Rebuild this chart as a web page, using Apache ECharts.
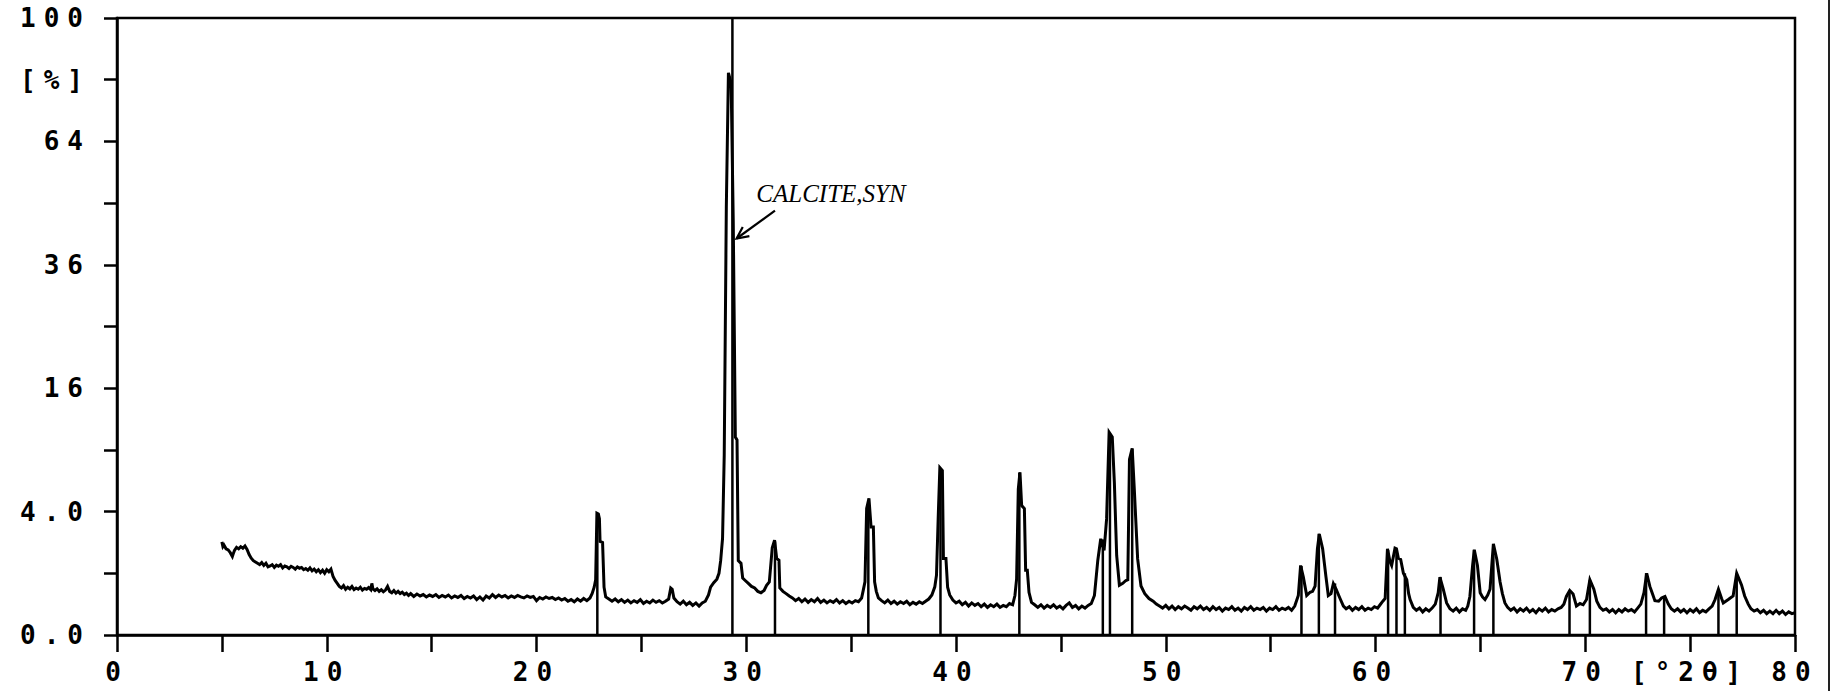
<!DOCTYPE html>
<html><head><meta charset="utf-8">
<script src="https://cdn.jsdelivr.net/npm/echarts@6/dist/echarts.min.js"></script>
<style>
html,body{margin:0;padding:0;background:#fff;}
#chart{width:1838px;height:691px;}
#chart text[style*="Mono"]{letter-spacing:8px;}
</style></head><body><div id="chart"></div>
<script>
// ---- data (2θ in degrees, intensity in %) ----
const trace = [
[5.00,2.28],[5.05,2.05],[5.10,2.12],[5.20,1.95],[5.30,1.90],[5.40,1.78],[5.50,1.62],[5.55,1.75],[5.60,1.88],[5.70,2.02],
[5.80,1.95],[5.90,2.05],[6.00,1.98],[6.10,2.08],[6.20,1.92],[6.30,1.70],[6.40,1.55],[6.50,1.45],[6.60,1.40],[6.70,1.35],
[6.80,1.30],[6.90,1.38],[7.00,1.27],[7.10,1.35],[7.20,1.22],[7.30,1.25],[7.40,1.30],[7.50,1.20],[7.60,1.28],[7.70,1.24],
[7.80,1.30],[7.90,1.18],[8.00,1.25],[8.10,1.22],[8.20,1.16],[8.30,1.24],[8.40,1.20],[8.50,1.14],[8.60,1.22],[8.70,1.17],
[8.80,1.20],[8.90,1.12],[9.00,1.16],[9.10,1.10],[9.20,1.18],[9.30,1.08],[9.40,1.14],[9.50,1.05],[9.60,1.12],[9.70,1.02],
[9.80,1.10],[9.90,1.00],[10.00,1.12],[10.10,1.05],[10.20,1.14],[10.30,0.90],[10.40,0.78],[10.50,0.70],[10.60,0.62],[10.70,0.58],
[10.80,0.64],[10.90,0.55],[11.00,0.60],[11.10,0.56],[11.20,0.62],[11.30,0.54],[11.40,0.58],[11.50,0.55],[11.60,0.60],[11.70,0.53],
[11.80,0.57],[11.90,0.55],[12.00,0.59],[12.10,0.54],[12.15,0.70],[12.20,0.56],[12.30,0.52],[12.40,0.56],[12.50,0.50],[12.60,0.54],
[12.70,0.49],[12.80,0.53],[12.90,0.62],[13.00,0.50],[13.10,0.47],[13.20,0.52],[13.30,0.46],[13.40,0.50],[13.50,0.45],[13.60,0.48],
[13.70,0.43],[13.80,0.46],[13.90,0.41],[14.00,0.45],[14.15,0.39],[14.30,0.44],[14.45,0.40],[14.60,0.43],[14.75,0.38],[14.90,0.42],
[15.05,0.39],[15.20,0.43],[15.35,0.37],[15.50,0.41],[15.65,0.38],[15.80,0.42],[15.95,0.36],[16.10,0.40],[16.25,0.37],[16.40,0.41],
[16.55,0.35],[16.70,0.39],[16.85,0.36],[17.00,0.40],[17.15,0.33],[17.30,0.38],[17.45,0.32],[17.60,0.40],[17.75,0.36],[17.90,0.43],
[18.05,0.37],[18.20,0.42],[18.35,0.38],[18.50,0.41],[18.65,0.36],[18.80,0.40],[18.95,0.37],[19.10,0.41],[19.25,0.38],[19.40,0.36],
[19.55,0.40],[19.70,0.37],[19.85,0.39],[20.00,0.31],[20.15,0.37],[20.30,0.34],[20.45,0.38],[20.60,0.35],[20.75,0.37],[20.90,0.33],
[21.05,0.36],[21.20,0.32],[21.35,0.35],[21.50,0.30],[21.65,0.33],[21.80,0.29],[21.95,0.34],[22.10,0.30],[22.25,0.35],[22.40,0.31],
[22.55,0.36],[22.65,0.45],[22.75,0.60],[22.82,0.80],[22.88,3.90],[22.95,3.85],[23.00,3.55],[23.03,2.30],[23.15,2.25],[23.22,0.60],
[23.30,0.38],[23.45,0.34],[23.60,0.30],[23.75,0.34],[23.90,0.29],[24.05,0.33],[24.20,0.28],[24.35,0.32],[24.50,0.27],[24.65,0.31],
[24.80,0.28],[24.95,0.33],[25.10,0.26],[25.25,0.30],[25.40,0.27],[25.55,0.32],[25.70,0.28],[25.85,0.31],[26.00,0.27],[26.15,0.30],
[26.30,0.34],[26.40,0.58],[26.47,0.55],[26.55,0.36],[26.70,0.29],[26.85,0.25],[27.00,0.30],[27.15,0.24],[27.30,0.28],[27.45,0.23],
[27.60,0.27],[27.75,0.22],[27.90,0.27],[28.05,0.30],[28.20,0.42],[28.30,0.60],[28.45,0.72],[28.60,0.82],[28.70,1.00],[28.78,1.45],
[28.87,2.45],[28.95,8.50],[29.05,48.0],[29.15,83.0],[29.28,80.0],[29.38,45.0],[29.48,10.3],[29.56,10.0],[29.62,1.45],[29.75,1.35],
[29.83,0.85],[29.95,0.78],[30.10,0.70],[30.25,0.62],[30.40,0.58],[30.55,0.50],[30.70,0.47],[30.85,0.52],[30.97,0.65],[31.10,0.74],
[31.24,2.00],[31.35,2.36],[31.45,1.54],[31.56,1.47],[31.60,0.58],[31.75,0.50],[31.90,0.45],[32.05,0.40],[32.20,0.36],[32.35,0.31],
[32.50,0.35],[32.65,0.29],[32.80,0.34],[32.95,0.28],[33.10,0.33],[33.25,0.29],[33.40,0.35],[33.55,0.28],[33.70,0.32],[33.85,0.27],
[34.00,0.31],[34.15,0.28],[34.30,0.33],[34.45,0.27],[34.60,0.31],[34.75,0.26],[34.90,0.30],[35.05,0.27],[35.20,0.31],[35.35,0.29],
[35.50,0.36],[35.58,0.53],[35.66,0.74],[35.74,4.20],[35.85,4.90],[35.95,3.07],[36.06,3.07],[36.12,0.74],[36.20,0.50],[36.30,0.36],
[36.45,0.31],[36.60,0.27],[36.75,0.32],[36.90,0.26],[37.05,0.30],[37.20,0.25],[37.35,0.29],[37.50,0.26],[37.65,0.30],[37.80,0.24],
[37.95,0.28],[38.10,0.25],[38.25,0.29],[38.40,0.26],[38.55,0.30],[38.70,0.34],[38.85,0.42],[38.99,0.61],[39.07,0.94],[39.15,3.57],
[39.23,7.36],[39.35,7.10],[39.40,1.54],[39.52,1.54],[39.60,0.60],[39.70,0.42],[39.85,0.32],[40.00,0.27],[40.15,0.30],[40.30,0.24],
[40.45,0.28],[40.60,0.22],[40.75,0.27],[40.90,0.23],[41.05,0.26],[41.20,0.21],[41.35,0.25],[41.50,0.20],[41.65,0.24],[41.80,0.21],
[41.95,0.25],[42.10,0.20],[42.25,0.23],[42.40,0.21],[42.55,0.26],[42.70,0.24],[42.81,0.41],[42.89,0.83],[42.97,5.60],[43.05,6.96],
[43.13,4.40],[43.26,4.20],[43.32,1.10],[43.40,1.10],[43.48,0.48],[43.60,0.28],[43.75,0.24],[43.90,0.20],[44.05,0.24],[44.20,0.19],
[44.35,0.23],[44.50,0.20],[44.65,0.24],[44.80,0.19],[44.95,0.22],[45.10,0.18],[45.25,0.23],[45.40,0.27],[45.55,0.20],[45.70,0.23],
[45.85,0.18],[46.00,0.22],[46.15,0.19],[46.30,0.23],[46.45,0.26],[46.60,0.41],[46.76,1.46],[46.90,2.43],[47.06,1.88],[47.18,3.54],
[47.30,10.8],[47.45,10.3],[47.55,6.10],[47.66,1.66],[47.79,0.65],[47.95,0.70],[48.10,0.78],[48.19,0.80],[48.27,8.10],[48.40,9.16],
[48.50,5.60],[48.66,1.52],[48.82,0.63],[49.00,0.45],[49.20,0.35],[49.40,0.30],[49.55,0.25],[49.70,0.22],[49.85,0.19],[50.00,0.23],
[50.15,0.18],[50.30,0.22],[50.45,0.17],[50.60,0.21],[50.75,0.18],[50.90,0.22],[51.05,0.19],[51.20,0.16],[51.35,0.21],[51.50,0.18],
[51.65,0.22],[51.80,0.17],[51.95,0.20],[52.10,0.16],[52.25,0.21],[52.40,0.17],[52.55,0.20],[52.70,0.15],[52.85,0.19],[53.00,0.17],
[53.15,0.21],[53.30,0.16],[53.45,0.19],[53.60,0.15],[53.75,0.20],[53.90,0.17],[54.05,0.21],[54.20,0.16],[54.35,0.19],[54.50,0.17],
[54.65,0.20],[54.80,0.15],[54.95,0.19],[55.10,0.17],[55.25,0.21],[55.40,0.16],[55.55,0.19],[55.70,0.17],[55.85,0.20],[56.00,0.16],
[56.15,0.22],[56.32,0.41],[56.43,1.27],[56.56,0.88],[56.72,0.41],[56.88,0.48],[57.00,0.50],[57.12,0.63],[57.23,1.95],[57.32,2.67],
[57.48,1.95],[57.64,0.88],[57.75,0.41],[57.88,0.45],[57.99,0.69],[58.12,0.55],[58.31,0.35],[58.47,0.22],[58.60,0.18],[58.75,0.21],
[58.90,0.16],[59.05,0.20],[59.20,0.17],[59.35,0.21],[59.50,0.16],[59.65,0.19],[59.80,0.17],[59.95,0.21],[60.10,0.19],[60.22,0.24],
[60.35,0.30],[60.46,0.35],[60.57,1.95],[60.69,1.42],[60.77,1.27],[60.93,1.98],[61.00,1.95],[61.09,1.55],[61.20,1.50],[61.33,1.00],
[61.49,0.80],[61.58,0.45],[61.65,0.33],[61.80,0.20],[61.95,0.16],[62.10,0.19],[62.25,0.14],[62.40,0.18],[62.55,0.15],[62.70,0.19],
[62.85,0.25],[62.99,0.47],[63.07,0.88],[63.23,0.55],[63.39,0.27],[63.55,0.18],[63.70,0.15],[63.85,0.19],[64.00,0.14],[64.15,0.18],
[64.30,0.16],[64.40,0.22],[64.50,0.39],[64.63,1.27],[64.71,1.91],[64.86,1.27],[64.99,0.47],[65.10,0.38],[65.22,0.33],[65.35,0.42],
[65.46,0.55],[65.62,2.18],[65.78,1.52],[65.94,0.74],[66.05,0.45],[66.17,0.27],[66.30,0.20],[66.45,0.16],[66.60,0.19],[66.75,0.14],
[66.90,0.18],[67.05,0.15],[67.20,0.19],[67.35,0.14],[67.50,0.17],[67.65,0.13],[67.80,0.18],[67.95,0.15],[68.10,0.19],[68.25,0.14],
[68.40,0.17],[68.55,0.15],[68.70,0.18],[68.85,0.20],[68.98,0.25],[69.10,0.39],[69.26,0.52],[69.42,0.44],[69.58,0.22],[69.75,0.26],
[69.90,0.24],[70.06,0.33],[70.22,0.80],[70.41,0.55],[70.55,0.30],[70.70,0.20],[70.85,0.16],[71.00,0.18],[71.15,0.14],[71.30,0.17],
[71.45,0.13],[71.60,0.17],[71.75,0.14],[71.90,0.18],[72.05,0.15],[72.20,0.17],[72.35,0.14],[72.50,0.19],[72.65,0.25],[72.80,0.47],
[72.93,1.00],[73.08,0.62],[73.20,0.45],[73.32,0.31],[73.50,0.30],[73.64,0.36],[73.80,0.39],[73.96,0.25],[74.10,0.18],[74.25,0.15],
[74.40,0.18],[74.55,0.14],[74.70,0.17],[74.85,0.13],[75.00,0.17],[75.15,0.14],[75.30,0.18],[75.45,0.13],[75.60,0.16],[75.75,0.14],
[75.90,0.18],[76.05,0.22],[76.19,0.33],[76.35,0.55],[76.50,0.35],[76.58,0.27],[76.70,0.30],[76.82,0.33],[77.05,0.40],[77.22,1.00],
[77.35,0.80],[77.45,0.66],[77.60,0.40],[77.77,0.25],[77.90,0.18],[78.05,0.15],[78.20,0.17],[78.35,0.13],[78.50,0.16],[78.65,0.12],
[78.80,0.15],[78.95,0.12],[79.10,0.16],[79.25,0.12],[79.40,0.15],[79.55,0.11],[79.70,0.14],[79.85,0.12],[80.00,0.13]
];

// reference pattern sticks (calcite, syn)
const stickAngles  = [22.90, 29.34, 31.37, 35.82, 39.26, 43.02, 47.00, 47.34, 48.40, 56.47, 57.30, 58.07, 60.60, 61.00, 61.40, 63.10, 64.70, 65.62, 69.25, 70.22, 72.90, 73.76, 76.35, 77.22];
const stickHeights = [3.9,   100,   2.3,   4.8,   7.3,   6.9,   2.4,   10.5,  9.1,   1.25,  2.7,   0.7,   1.9,   1.9,   1.0,   0.88,  1.9,   2.15,  0.5,   0.8,   1.0,   0.4,   0.55,  1.0];

// axis ticks and labels
const yLabelIntensity = [0, 4, 16, 36, 64, 81, 100];
const yLabelText      = ['0.0', '4.0', '16', '36', '64', '[%]', '100'];
const xLabelAngles = [0, 10, 20, 30, 40, 50, 60, 70, 75, 80];
const xLabelText   = ['0', '10', '20', '30', '40', '50', '60', '70', '[°2θ]', '80'];

// phase annotation: label anchor, arrow tail, arrow tip (2θ, intensity %)
const annotationText = 'CALCITE,SYN';
const annotationLabelAt = [34.04, 51.2];
const annotationArrowFrom = [31.37, 47.3];
const annotationArrowTo = [29.54, 41.3];

// ---- chart ----
const sq = v => Math.sqrt(v);
const monoFont = {fontFamily: 'DejaVu Sans Mono', fontWeight: 'bold', fontSize: 26, color: '#000'};

const chart = echarts.init(document.getElementById('chart'), null, {renderer: 'svg'});
chart.setOption({
  animation: false,
  backgroundColor: '#fff',
  grid: {left: 117, right: 43, top: 18, bottom: 56, show: true, borderColor: '#000', borderWidth: 2.5, backgroundColor: 'transparent'},
  xAxis: {
    type: 'value', min: 0, max: 80, interval: 5,
    axisLine: {show: true, onZero: false, lineStyle: {color: '#000', width: 2.5}},
    axisTick: {show: true, length: 17, lineStyle: {color: '#000', width: 2.5}},
    splitLine: {show: false},
    axisLabel: Object.assign({
      margin: 24,
      formatter: v => { const i = xLabelAngles.findIndex(a => Math.abs(a - v) < 1e-6); return i < 0 ? '' : xLabelText[i]; }
    }, monoFont)
  },
  yAxis: {
    type: 'value', min: 0, max: 10, interval: 1,
    axisLine: {show: true, lineStyle: {color: '#000', width: 2.5}},
    axisTick: {show: true, length: 13, lineStyle: {color: '#000', width: 2.5}},
    splitLine: {show: false},
    axisLabel: Object.assign({
      margin: 26,
      formatter: v => { const i = yLabelIntensity.findIndex(a => Math.abs(sq(a) - v) < 1e-6); return i < 0 ? '' : yLabelText[i]; }
    }, monoFont)
  },
  series: [
    {
      type: 'custom',
      name: 'sticks',
      silent: true,
      data: stickAngles.map((a, i) => [a, sq(stickHeights[i])]),
      renderItem: (params, api) => {
        const p0 = api.coord([api.value(0), 0]);
        const p1 = api.coord([api.value(0), api.value(1)]);
        return {type: 'line', shape: {x1: p0[0], y1: p0[1], x2: p1[0], y2: p1[1]}, style: {stroke: '#000', lineWidth: 2.5}};
      }
    },
    {
      type: 'line',
      name: 'pattern',
      silent: true,
      showSymbol: false,
      symbol: 'none',
      sampling: null,
      data: trace.map(p => [p[0], sq(p[1])]),
      lineStyle: {color: '#000', width: 3, join: 'miter'}
    },
    {
      type: 'custom',
      name: 'annotation',
      silent: true,
      clip: false,
      data: [[annotationLabelAt[0], sq(annotationLabelAt[1]), annotationArrowFrom[0], sq(annotationArrowFrom[1]), annotationArrowTo[0], sq(annotationArrowTo[1])]],
      renderItem: (params, api) => {
        const t = api.coord([api.value(0), api.value(1)]);
        const a = api.coord([api.value(2), api.value(3)]);
        const b = api.coord([api.value(4), api.value(5)]);
        const ang = Math.atan2(a[1] - b[1], a[0] - b[0]);
        const L = 13, spread = 0.45;
        const h1 = [b[0] + L * Math.cos(ang + spread), b[1] + L * Math.sin(ang + spread)];
        const h2 = [b[0] + L * Math.cos(ang - spread), b[1] + L * Math.sin(ang - spread)];
        return {
          type: 'group',
          children: [
            {type: 'line', shape: {x1: a[0], y1: a[1], x2: b[0], y2: b[1]}, style: {stroke: '#000', lineWidth: 2.2}},
            {type: 'polyline', shape: {points: [h1, b, h2]}, style: {stroke: '#000', lineWidth: 2.2, fill: null}},
            {type: 'text', x: t[0], y: t[1], style: {text: annotationText, fontFamily: 'Liberation Serif', fontStyle: 'italic', fontSize: 25, fill: '#000', align: 'center', verticalAlign: 'middle'}}
          ]
        };
      }
    }
  ],
  graphic: [
    {type: 'line', shape: {x1: 1829, y1: 0, x2: 1829, y2: 691}, style: {stroke: '#222', lineWidth: 2}, silent: true}
  ]
});
</script></body></html>
